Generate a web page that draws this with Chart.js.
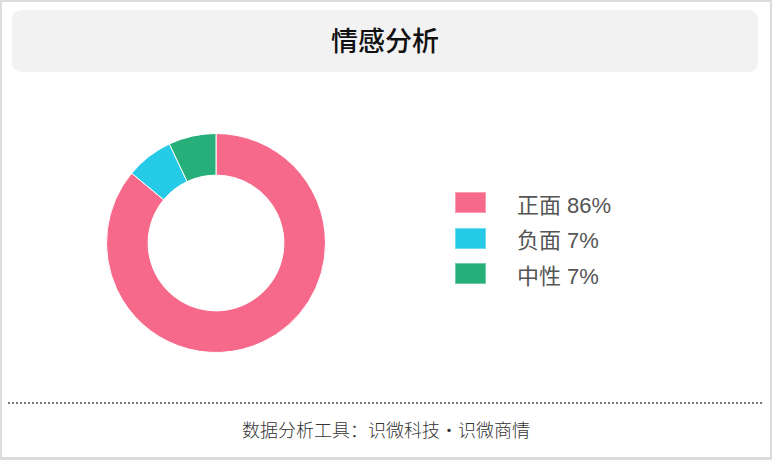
<!DOCTYPE html>
<html>
<head>
<meta charset="utf-8">
<script src="https://cdn.jsdelivr.net/npm/chart.js@4.4.1/dist/chart.umd.min.js"></script>
<style>
  html, body { margin: 0; padding: 0; background: #fff; }
  .card {
    position: relative; width: 772px; height: 460px; box-sizing: border-box;
    border: 2px solid #dcdcdc; border-bottom-width: 3px; background: #fff;
    font-family: "Liberation Sans", "Noto Sans CJK SC", sans-serif;
  }
  .title {
    position: absolute; left: 10px; top: 8px; width: 746px; height: 62px;
    background: #f2f2f2; border-radius: 9px;
    font-family: "Noto Sans CJK SC", sans-serif; font-weight: 500;
    font-size: 27px; color: #111; text-align: center; line-height: 60px;
  }
  .pie { position: absolute; left: 99px; top: 126px; width: 230px; height: 230px; }
  .legend { position: absolute; left: 453px; top: 183px; }
  .legend .row { display: flex; align-items: center; height: 35.5px; }
  .legend .box { width: 31px; height: 21px; box-sizing: border-box; border: 1px solid rgba(255,255,255,0.35); }
  .legend .txt { margin-left: 31px; font-size: 22px; color: #555; }
  .dots {
    position: absolute; left: 6px; top: 400px; width: 756px; height: 2px;
    background: repeating-linear-gradient(to right, #7a7a7a 0 2px, transparent 2px 4px);
  }
  .footer {
    position: absolute; left: 0; top: 412px; width: 768px; text-align: center;
    font-family: "Noto Sans CJK SC", sans-serif; font-weight: 300; font-size: 18px; color: #333;
    line-height: 30px;
  }
</style>
</head>
<body>
<div class="card">
  <div class="title">情感分析</div>
  <div class="pie"><canvas id="sentiment"></canvas></div>
  <div class="legend" id="legend"></div>
  <div class="dots"></div>
  <div class="footer">数据分析工具：识微科技・识微商情</div>
</div>
<script>
var labels = ['正面', '负面', '中性'];
var values = [86, 7, 7];
var colors = ['#f6698a', '#25cae6', '#26af78'];

var legendEl = document.getElementById('legend');
labels.forEach(function (name, i) {
    var row = document.createElement('div');
    row.className = 'row';
    row.innerHTML = '<div class="box" style="background:' + colors[i] + '"></div>' +
        '<div class="txt">' + name + ' ' + values[i] + '%</div>';
    legendEl.appendChild(row);
});

var ctx = document.getElementById('sentiment').getContext('2d');
const sentimentChart = new Chart(ctx, {
    type: 'doughnut',
    data: {
        labels: labels,
        datasets: [{
            data: values,
            backgroundColor: colors,
            borderColor: '#ffffff',
            borderWidth: 1
        }]
    },
    options: {
        responsive: true,
        maintainAspectRatio: false,
        animation: false,
        cutout: '62%',
        layout: { padding: 5 },
        plugins: {
            legend: { display: false },
            tooltip: { enabled: false }
        }
    }
});
</script>
</body>
</html>
